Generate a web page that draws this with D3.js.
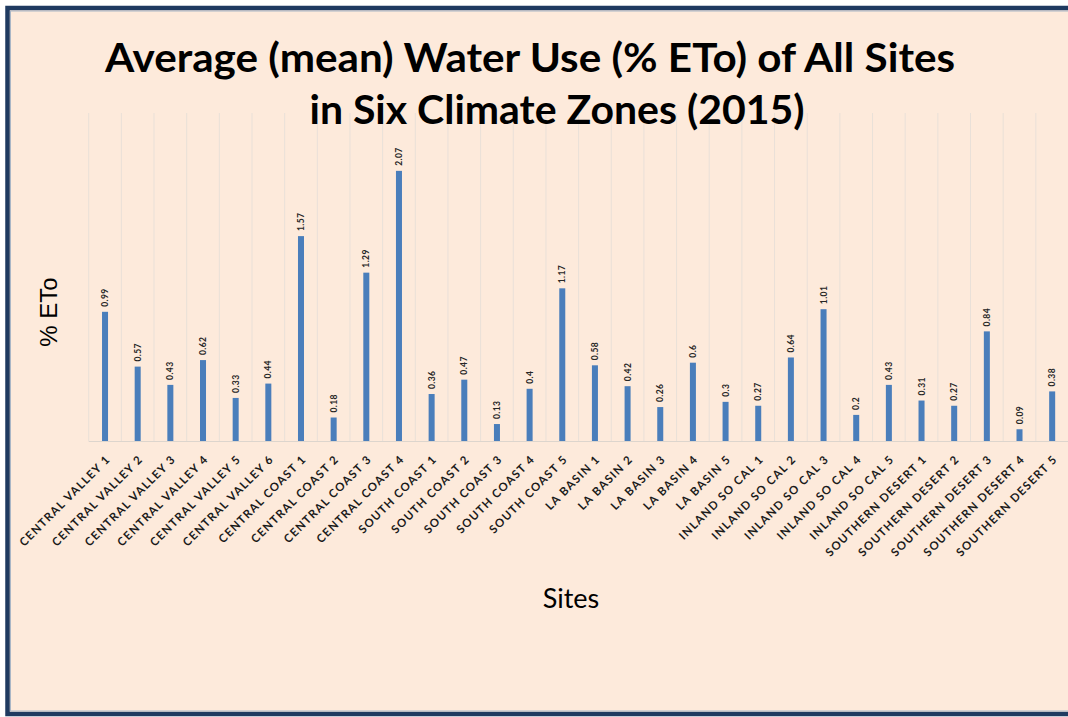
<!DOCTYPE html>
<html>
<head>
<meta charset="utf-8">
<script src="https://cdnjs.cloudflare.com/ajax/libs/d3/7.8.5/d3.min.js"></script>
<style>
  body { margin: 0; background: #ffffff; }
  svg { display: block; }
</style>
</head>
<body>
<div id="chart"></div>
<script>
const sites = [
  "CENTRAL VALLEY 1", "CENTRAL VALLEY 2", "CENTRAL VALLEY 3", "CENTRAL VALLEY 4", "CENTRAL VALLEY 5", "CENTRAL VALLEY 6",
  "CENTRAL COAST 1", "CENTRAL COAST 2", "CENTRAL COAST 3", "CENTRAL COAST 4",
  "SOUTH COAST 1", "SOUTH COAST 2", "SOUTH COAST 3", "SOUTH COAST 4", "SOUTH COAST 5",
  "LA BASIN 1", "LA BASIN 2", "LA BASIN 3", "LA BASIN 4", "LA BASIN 5",
  "INLAND SO CAL 1", "INLAND SO CAL 2", "INLAND SO CAL 3", "INLAND SO CAL 4", "INLAND SO CAL 5",
  "SOUTHERN DESERT 1", "SOUTHERN DESERT 2", "SOUTHERN DESERT 3", "SOUTHERN DESERT 4", "SOUTHERN DESERT 5"
];
const water_use = [
  0.99, 0.57, 0.43, 0.62, 0.33, 0.44,
  1.57, 0.18, 1.29, 2.07,
  0.36, 0.47, 0.13, 0.4, 1.17,
  0.58, 0.42, 0.26, 0.6, 0.3,
  0.27, 0.64, 1.01, 0.2, 0.43,
  0.31, 0.27, 0.84, 0.09, 0.38
];
const title_lines = ["Average (mean) Water Use (% ETo) of All Sites", "in Six Climate Zones (2015)"];

const width_chart = 1068;
const height_chart = 717;
const plot_left = 88.7, plot_right = 1068.5, plot_top = 113, plot_bottom = 441;

const svg = d3.select("#chart")
   .append("svg")
   .attr("width", width_chart)
   .attr("height", height_chart);

// panel background + navy frame
svg.append("rect")
   .attr("x", 7.5).attr("y", 8)
   .attr("width", 1070).attr("height", 706)
   .attr("fill", "#fdeadb")
   .attr("stroke", "#1f3a60")
   .attr("stroke-width", 4.5);
svg.append("rect")
   .attr("x", 10.5).attr("y", 11)
   .attr("width", 1070).attr("height", 700)
   .attr("fill", "none")
   .attr("stroke", "#a9b6c6")
   .attr("stroke-width", 1);

var x = d3.scaleBand()
   .domain(sites)
   .range([plot_left, plot_right])
   .paddingInner(0.816)
   .paddingOuter(0.408);

var y = d3.scaleLinear()
   .domain([0, 2.5])
   .range([plot_bottom, plot_bottom - 2.5 * 130.5]);

// vertical gridlines between categories
var step = x.step();
svg.append("g")
   .selectAll("line")
   .data(d3.range(sites.length + 1))
   .join("line")
   .attr("x1", i => plot_left + i * step)
   .attr("x2", i => plot_left + i * step)
   .attr("y1", plot_top)
   .attr("y2", plot_bottom)
   .attr("stroke", "#e9e0d8")
   .attr("stroke-width", 1);

svg.append("line")
   .attr("x1", plot_left).attr("x2", plot_right)
   .attr("y1", plot_bottom + 0.5).attr("y2", plot_bottom + 0.5)
   .attr("stroke", "#ddd5cd");

// bars
svg.append("g")
   .selectAll("rect")
   .data(water_use)
   .join("rect")
   .attr("x", (d, i) => x(sites[i]))
   .attr("y", d => y(d))
   .attr("width", x.bandwidth())
   .attr("height", d => y(0) - y(d))
   .attr("fill", "#4a7ebb");

// value labels
svg.append("g")
   .selectAll("text")
   .data(water_use)
   .join("text")
   .attr("transform", (d, i) => `translate(${x(sites[i]) + x.bandwidth() / 2 + 3},${y(d) - 5}) rotate(-90)`)
   .attr("font-family", "Lato, 'Open Sans', sans-serif")
   .attr("font-weight", "bold")
   .attr("font-size", 8.5)
   .attr("letter-spacing", 0.4)
   .attr("fill", "#262626")
   .text(d => d);

// category labels
svg.append("g")
   .selectAll("text")
   .data(sites)
   .join("text")
   .attr("transform", d => `translate(${x(d) + x.bandwidth() / 2 + 6},${plot_bottom + 19}) rotate(-45)`)
   .attr("text-anchor", "end")
   .attr("font-family", "Lato, 'Open Sans', sans-serif")
   .attr("font-weight", "bold")
   .attr("font-size", 11.5)
   .attr("letter-spacing", 1.2)
   .attr("fill", "#1a1a1a")
   .text(d => d);

// title
svg.append("text")
   .attr("x", 530).attr("y", 72)
   .attr("text-anchor", "middle")
   .attr("font-family", "Lato, 'Open Sans', sans-serif")
   .attr("font-weight", "bold")
   .attr("font-size", 40)
   .attr("textLength", 850)
   .attr("lengthAdjust", "spacingAndGlyphs")
   .attr("fill", "#000")
   .text(title_lines[0]);
svg.append("text")
   .attr("x", 557).attr("y", 124)
   .attr("text-anchor", "middle")
   .attr("font-family", "Lato, 'Open Sans', sans-serif")
   .attr("font-weight", "bold")
   .attr("font-size", 40)
   .attr("textLength", 495)
   .attr("lengthAdjust", "spacingAndGlyphs")
   .attr("fill", "#000")
   .text(title_lines[1]);

// axis titles
svg.append("text")
   .attr("transform", "translate(57,312) rotate(-90)")
   .attr("text-anchor", "middle")
   .attr("font-family", "'Liberation Sans', Arial, sans-serif")
   .attr("font-size", 24)
   .attr("fill", "#000")
   .text("% ETo");

svg.append("text")
   .attr("x", 571).attr("y", 608)
   .attr("text-anchor", "middle")
   .attr("font-family", "Lato, 'Open Sans', sans-serif")
   .attr("font-size", 27)
   .attr("fill", "#000")
   .text("Sites");
</script>
</body>
</html>
